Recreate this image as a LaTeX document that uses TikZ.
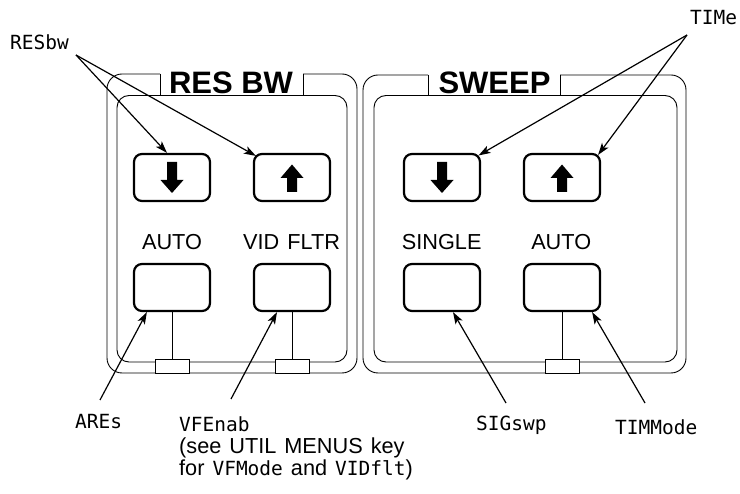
\documentclass[tikz,border=0pt]{standalone}
\usepackage{fontspec}
\setmainfont{Liberation Sans}
\setmonofont{DejaVu Sans Mono}
\usetikzlibrary{arrows.meta}
\newcommand{\mtt}[1]{{\fontsize{19.5}{22}\selectfont\ttfamily #1}}
\newcommand{\widesp}{\spaceskip=8pt plus 0pt minus 0pt\relax}
\tikzset{
  panel/.style={line width=0.9pt},
  btn/.style={draw, line width=2.2pt, rounded corners=8pt, minimum width=76pt, minimum height=47pt, inner sep=0pt},
  jbox/.style={draw, fill=white, line width=0.9pt, minimum width=34pt, minimum height=14pt, inner sep=0pt},
  callout/.style={line width=1.2pt, -{Stealth[length=12pt,width=8pt,inset=3pt]}},
  mono/.style={inner sep=0pt, anchor=base west, font=\fontsize{19.5}{22}\selectfont\ttfamily},
  lbl/.style={inner sep=0pt, anchor=base, font=\fontsize{21.7}{24}\selectfont},
  ttl/.style={inner sep=0pt, anchor=base, font=\fontsize{31}{34}\selectfont\bfseries},
  note/.style={inner sep=0pt, anchor=base west, font=\fontsize{21.7}{24}\selectfont},
  dnarrow/.pic={\fill (-5,-15.5) -- (5,-15.5) -- (5,2.5) -- (11.5,2.5) -- (0,15.5) -- (-11.5,2.5) -- (-5,2.5) -- cycle;},
  uparrow/.pic={\fill (-5,14.5) -- (5,14.5) -- (5,0.5) -- (11.5,0.5) -- (0,-13) -- (-11.5,0.5) -- (-5,0.5) -- cycle;},
}
\begin{document}
\begin{tikzpicture}[x=1pt, y=-1pt]
\useasboundingbox (0,0) rectangle (740,494);

% ---------- left panel (RES BW) ----------
\draw[panel] (160,95.5) -- (160,74);
\draw[panel, rounded corners=15pt] (160,74) -- (107,74) -- (107,373) -- (357,373) -- (357,74) -- (303,74);
\draw[panel] (303,74) -- (303,95.5);
\draw[panel, rounded corners=12pt] (117,95.5) rectangle (347,362);
\node[ttl] (resbwttl) at (231,94) {RES BW};

% ---------- right panel (SWEEP) ----------
\draw[panel] (428,95.5) -- (428,75);
\draw[panel, rounded corners=15pt] (428,75) -- (363,75) -- (363,373) -- (686,373) -- (686,75) -- (560,75);
\draw[panel] (560,75) -- (560,95.5);
\draw[panel, rounded corners=12pt] (374,95.5) rectangle (677,362);
\node[ttl] (sweepttl) at (494.5,94) {SWEEP};

% ---------- buttons ----------
\node[btn] (rdn) at (172,177.5) {};
\node[btn] (rup) at (292,177.5) {};
\node[btn] (sdn) at (442,177.5) {};
\node[btn] (sup) at (562,177.5) {};
\pic at (rdn.center) {dnarrow};
\pic at (rup.center) {uparrow};
\pic at (sdn.center) {dnarrow};
\pic at (sup.center) {uparrow};

\node[btn] (ab) at (172,287.5) {};
\node[btn] (vb) at (292,287.5) {};
\node[btn] (sb) at (442,287.5) {};
\node[btn] (tb) at (562,287.5) {};

\node[lbl] (autol) at (172,249.5) {AUTO};
\node[lbl] (vidl) at (291.5,249.5) {VID\hspace{2pt} FLTR};
\node[lbl] (singl) at (441.7,249.5) {SINGLE};
\node[lbl] (auto2l) at (561.2,249.5) {AUTO};

% ---------- junction boxes ----------
\node[jbox] (j1) at (172,366.5) {};
\node[jbox] (j2) at (292,366.5) {};
\node[jbox] (j3) at (562,366.5) {};
\draw[panel] (ab.south) -- (j1.north);
\draw[panel] (vb.south) -- (j2.north);
\draw[panel] (tb.south) -- (j3.north);

% ---------- callout labels ----------
\node[mono] (resbw) at (10,50) {RESbw};
\node[mono] (time) at (690,25) {TIMe};
\node[mono] (ares) at (75,429) {AREs};
\node[mono] (vfenab) at (179,432) {VFEnab};
\node[note] (note2) at (179,454) {\widesp (see UTIL MENUS key};
\node[note] (note3) at (179,476) {\widesp for \mtt{VFMode} and \mtt{VIDflt})};
\node[mono] (sigswp) at (476,430.5) {SIGswp};
\node[mono] (timmode) at (615,435) {TIMMode};

\coordinate (resbwp) at (76,55);
\coordinate (timep) at (687,35);
\coordinate (aresp) at (100,400);
\coordinate (vfenabp) at (231,399);
\coordinate (sigswpp) at (506,403);
\coordinate (timmodep) at (645,403);

\draw[callout] (resbwp) -- ([xshift=-5pt]rdn.north);
\draw[callout] (resbwp) -- ([xshift=3pt,yshift=-3pt]rup.north west);
\draw[callout] (timep) -- ([xshift=-2.5pt,yshift=-2.5pt]sdn.north east);
\draw[callout] (timep) -- ([xshift=-3pt,yshift=-2pt]sup.north east);
\draw[callout] (aresp) -- ([xshift=14pt]ab.south west);
\draw[callout] (vfenabp) -- ([xshift=-15pt]vb.south);
\draw[callout] (sigswpp) -- ([xshift=11pt]sb.south);
\draw[callout] (timmodep) -- ([xshift=-9pt]tb.south east);
\end{tikzpicture}
\end{document}
